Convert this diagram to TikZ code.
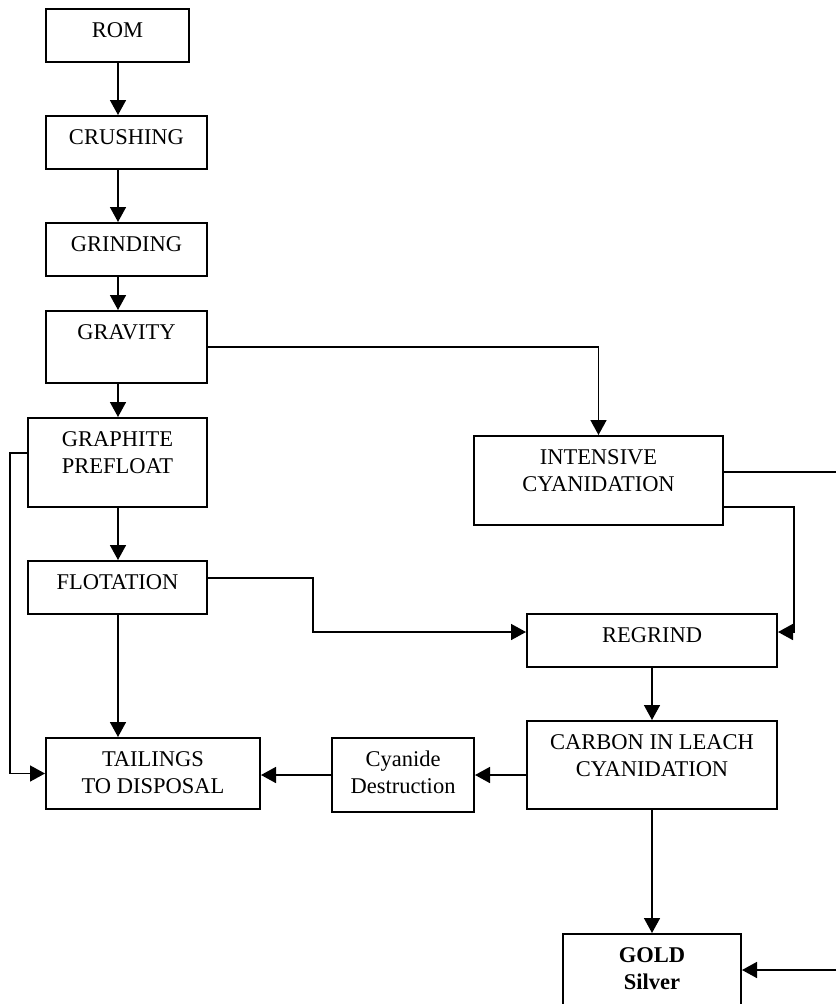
\documentclass[tikz,border=0pt]{standalone}
\usepackage{fontspec}
\setmainfont{Liberation Serif}
\usetikzlibrary{arrows.meta}
\newcommand\tstrutx{\rule{0pt}{20pt}}
\begin{document}
\begin{tikzpicture}[x=1pt,y=-1pt,
  box/.style={draw, line width=2pt, inner sep=0pt},
  txt/.style={font=\fontsize{22.5}{26.8}\selectfont, align=center, inner sep=0pt, anchor=north},
  conn/.style={line width=1.6pt},
  arr/.style={conn, -{Triangle[length=15pt,width=16pt]}}]
\useasboundingbox (0,0) rectangle (836,1004);
% boxes
\node[box, minimum width=143pt, minimum height=53pt] (rom) at (117.5,35.5) {};
\node[box, minimum width=161pt, minimum height=53pt] (crushing) at (126.5,142.5) {};
\node[box, minimum width=161pt, minimum height=53pt] (grinding) at (126.5,249.5) {};
\node[box, minimum width=161pt, minimum height=72pt] (gravity) at (126.5,347) {};
\node[box, minimum width=179pt, minimum height=89pt] (prefloat) at (117.5,462.5) {};
\node[box, minimum width=179pt, minimum height=53pt] (flotation) at (117.5,587.5) {};
\node[box, minimum width=214pt, minimum height=71pt] (tailings) at (153,773.5) {};
\node[box, minimum width=249pt, minimum height=89pt] (intensive) at (598.5,480.5) {};
\node[box, minimum width=250pt, minimum height=53pt] (regrind) at (652,640.5) {};
\node[box, minimum width=250pt, minimum height=88pt] (cil) at (652,765) {};
\node[box, minimum width=142pt, minimum height=74pt] (cd) at (403,775) {};
\node[box, minimum width=178pt, minimum height=78pt] (gold) at (652,973) {};
% texts
\node[txt] (romT) at ([yshift=-9.5pt]rom.north) {\tstrutx ROM};
\node[txt] (crushingT) at ([yshift=-9.5pt]crushing.north) {\tstrutx CRUSHING};
\node[txt] (grindingT) at ([yshift=-9.5pt]grinding.north) {\tstrutx GRINDING};
\node[txt] (gravityT) at ([yshift=-9.5pt]gravity.north) {\tstrutx GRAVITY};
\node[txt] (prefloatT) at ([yshift=-9.5pt]prefloat.north) {\tstrutx GRAPHITE\\PREFLOAT};
\node[txt] (flotationT) at ([yshift=-9.5pt]flotation.north) {\tstrutx FLOTATION};
\node[txt] (tailingsT) at ([yshift=-9.5pt]tailings.north) {\tstrutx TAILINGS\\TO DISPOSAL};
\node[txt] (intensiveT) at ([yshift=-9.5pt]intensive.north) {\tstrutx INTENSIVE\\CYANIDATION};
\node[txt] (regrindT) at ([yshift=-9.5pt]regrind.north) {\tstrutx REGRIND};
\node[txt] (cilT) at ([yshift=-9.5pt]cil.north) {\tstrutx CARBON IN LEACH\\CYANIDATION};
\node[txt] (cdT) at ([yshift=-9.5pt]cd.north) {\tstrutx Cyanide\\Destruction};
\node[txt, font=\fontsize{22.5}{26.8}\selectfont\bfseries] (goldT) at ([yshift=-9.5pt]gold.north) {\tstrutx GOLD\\Silver};
% helper coordinates
\coordinate (spine) at (118,0);
\coordinate (outA) at (836,472);
\coordinate (outB) at (836,970);
% main column
\draw[arr] (spine |- rom.south) -- (spine |- crushing.north);
\draw[arr] (spine |- crushing.south) -- (spine |- grinding.north);
\draw[arr] (spine |- grinding.south) -- (spine |- gravity.north);
\draw[arr] (spine |- gravity.south) -- (spine |- prefloat.north);
\draw[arr] (spine |- prefloat.south) -- (spine |- flotation.north);
\draw[arr] (spine |- flotation.south) -- (spine |- tailings.north);
% gravity to intensive
\draw[arr] (gravity.east) -| (intensive.north);
% prefloat bypass
\draw[arr] ([yshift=9.5pt]prefloat.west) -- ++(-17,0) |- (tailings.west);
% flotation to regrind
\draw[arr] ([yshift=9.5pt]flotation.east) -- ++(105,0) |- ([yshift=8.5pt]regrind.west);
% intensive outputs
\draw[conn] ([yshift=8.5pt]intensive.east) -- (outA);
\draw[arr] ([yshift=-26.5pt]intensive.east) -- ++(70,0) |- ([yshift=8.5pt]regrind.east);
% lower part
\draw[arr] (regrind.south) -- (cil.north);
\draw[arr] (cil.west |- cd.east) -- (cd.east);
\draw[arr] (cd.west) -- (cd.west -| tailings.east);
\draw[arr] (cil.south) -- (gold.north);
\draw[arr] (outB) -- (outB -| gold.east);
\end{tikzpicture}
\end{document}
